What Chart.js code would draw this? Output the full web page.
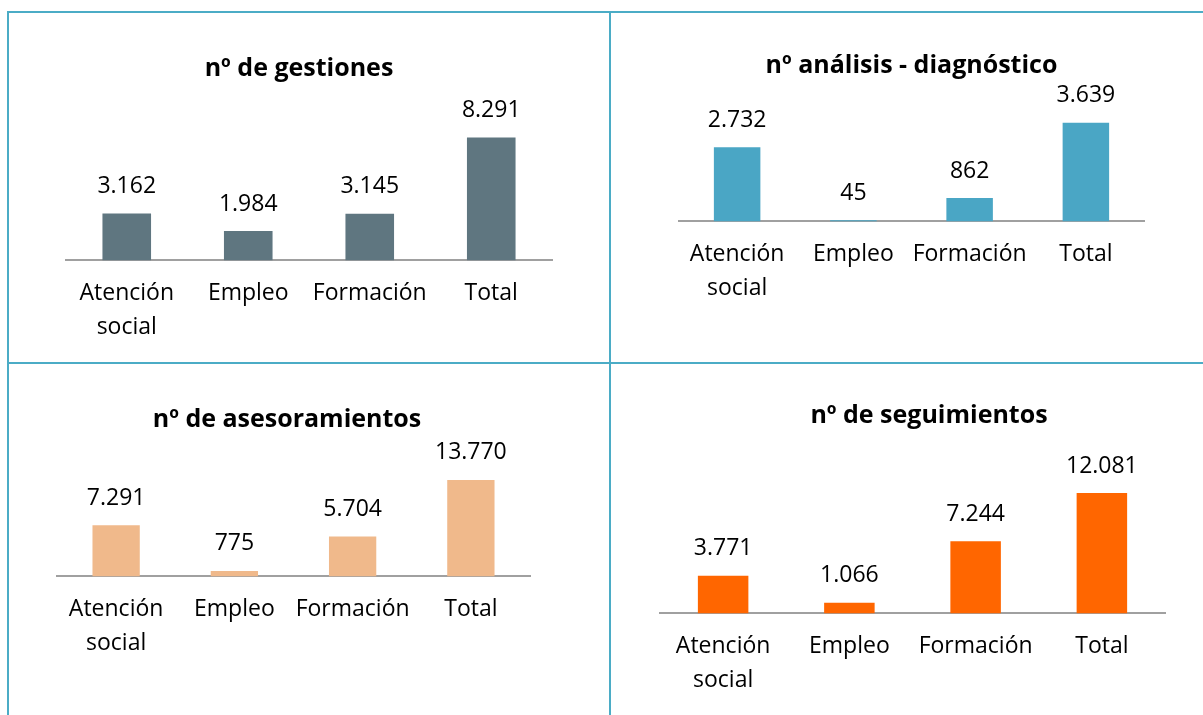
<!DOCTYPE html>
<html>
<head>
<meta charset="utf-8">
<script src="https://cdn.jsdelivr.net/npm/chart.js@4/dist/chart.umd.min.js"></script>
<style>
  html, body { margin:0; padding:0; background:#fff; }
  body { width:1203px; height:715px; position:relative; overflow:hidden; }
  .line { position:absolute; background:#4bacc6; }
  .wrap { position:absolute; }
  canvas { display:block; }
</style>
</head>
<body>
<div class="line" style="left:7px; top:11px; width:1196px; height:2px;"></div>
<div class="line" style="left:7px; top:11px; width:2px; height:704px;"></div>
<div class="line" style="left:609px; top:11px; width:2px; height:704px;"></div>
<div class="line" style="left:7px; top:362px; width:1196px; height:2px;"></div>

<div class="wrap" style="left:10px; top:14px; width:598px; height:347px;"><canvas id="c1"></canvas></div>
<div class="wrap" style="left:612px; top:14px; width:591px; height:347px;"><canvas id="c2"></canvas></div>
<div class="wrap" style="left:10px; top:365px; width:598px; height:350px;"><canvas id="c3"></canvas></div>
<div class="wrap" style="left:612px; top:365px; width:591px; height:350px;"><canvas id="c4"></canvas></div>

<script>
// ---- data ----
const categories = [["Atención", "social"], "Empleo", "Formación", "Total"];
const gestiones = [3162, 1984, 3145, 8291];
const analisis = [2732, 45, 862, 3639];
const asesoramientos = [7291, 775, 5704, 13770];
const seguimientos = [3771, 1066, 7244, 12081];
const titles = ["nº de gestiones", "nº análisis - diagnóstico", "nº de asesoramientos", "nº de seguimientos"];

const FONT = "'Open Sans', 'Liberation Sans', sans-serif";

const valueLabels = {
  id: 'valueLabels',
  afterDatasetsDraw(chart) {
    const ctx = chart.ctx;
    const ds = chart.data.datasets[0];
    const meta = chart.getDatasetMeta(0);
    ctx.save();
    ctx.font = "23px " + FONT;
    ctx.fillStyle = "#000";
    ctx.textAlign = "center";
    ctx.textBaseline = "middle";
    meta.data.forEach((bar, i) => {
      const v = ds.data[i];
      ctx.fillText(v.toLocaleString('de-DE'), bar.x, bar.y - 27);
    });
    ctx.restore();
  }
};

function makeChart(id, values, title, color, cfg) {
  new Chart(document.getElementById(id), {
    type: 'bar',
    data: {
      labels: categories,
      datasets: [{ data: values, backgroundColor: color, borderWidth: 0,
                   categoryPercentage: 1.0, barPercentage: 0.4 }]
    },
    options: {
      responsive: true,
      maintainAspectRatio: false,
      animation: false,
      layout: { padding: { left: cfg.left, right: cfg.right, top: 0, bottom: cfg.bottom } },
      plugins: {
        legend: { display: false },
        tooltip: { enabled: false },
        title: {
          display: true, text: title, color: '#000',
          font: { family: FONT, size: 25, weight: 'bold' },
          padding: { top: cfg.titleTop, bottom: cfg.titleBottom }
        }
      },
      scales: {
        x: {
          grid: { display: false, drawTicks: false },
          border: { display: true, color: '#a0a0a0', width: 2 },
          ticks: { color: '#000', padding: 16, maxRotation: 0, autoSkip: false,
                   font: { family: FONT, size: 23, lineHeight: 1.47 } }
        },
        y: {
          display: cfg.spacer > 0, position: cfg.spacerSide, min: 0, max: cfg.max,
          grid: { display: false }, border: { display: false }, ticks: { display: false },
          afterFit(scale) { scale.width = cfg.spacer; }
        }
      }
    },
    plugins: [valueLabels]
  });
}

makeChart('c1', gestiones, titles[0], '#5f7680', { left: 36, right: 56, spacer: 20, spacerSide: 'left', bottom: 1, titleTop: 40, titleBottom: 9, max: 11300 });
makeChart('c2', analisis, titles[1], '#4aa6c5', { left: 67, right: 59, spacer: 0, spacerSide: 'left', bottom: 40, titleTop: 37, titleBottom: 9, max: 4850 });
makeChart('c3', asesoramientos, titles[2], '#f0b98b', { left: 34, right: 78, spacer: 13, spacerSide: 'left', bottom: 39, titleTop: 40, titleBottom: 9, max: 18900 });
makeChart('c4', seguimientos, titles[3], '#ff6600', { left: 48, right: 5, spacer: 33, spacerSide: 'right', bottom: 2, titleTop: 36, titleBottom: 9, max: 17400 });
</script>
</body>
</html>
